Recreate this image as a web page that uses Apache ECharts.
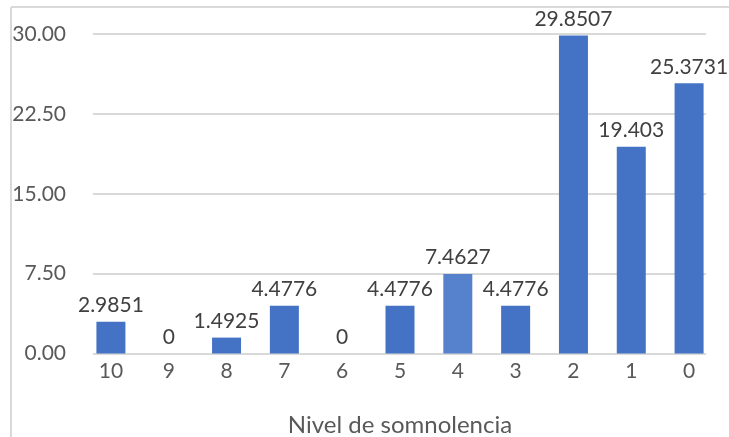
<!DOCTYPE html>
<html>
<head>
<meta charset="utf-8">
<script src="https://cdn.jsdelivr.net/npm/echarts@6/dist/echarts.min.js"></script>
<style>
  html, body { margin: 0; padding: 0; background: #fff; }
  #chart { width: 729px; height: 437px; }
</style>
</head>
<body>
<div id="chart"></div>
<script>
// Somnolence level distribution (%)
const categories = ['10', '9', '8', '7', '6', '5', '4', '3', '2', '1', '0'];
const values = [2.9851, 0, 1.4925, 4.4776, 0, 4.4776, 7.4627, 4.4776, 29.8507, 19.403, 25.3731];
const yTicks = { min: 0, max: 30, interval: 7.5 };
const axisTitle = 'Nivel de somnolencia';
const highlighted = '4';

const FONT = "Lato, sans-serif";
const BAR = '#4472C4';
const BAR_LIGHT = '#5581CD';

const chart = echarts.init(document.getElementById('chart'), null, { renderer: 'canvas' });

chart.setOption({
  backgroundColor: '#ffffff',
  animation: false,
  graphic: [
    { type: 'line', shape: { x1: 11, y1: 7, x2: 729, y2: 7 }, style: { stroke: '#d9d9d9', lineWidth: 2 } },
    { type: 'line', shape: { x1: 11, y1: 7, x2: 11, y2: 437 }, style: { stroke: '#d9d9d9', lineWidth: 2 } }
  ],
  grid: [
    // value scale with gridlines and tick labels
    { left: 93, right: 23, top: 34, bottom: 83.5, containLabel: false, outerBoundsMode: 'none' },
    // bars and category labels
    { left: 82, right: 11, top: 34, bottom: 83.5, containLabel: false, outerBoundsMode: 'none' }
  ],
  xAxis: [
    { gridIndex: 0, type: 'category', data: categories, show: false },
    {
      gridIndex: 1,
      type: 'category',
      data: categories,
      axisLine: { show: false },
      axisTick: { show: false },
      axisLabel: { color: '#595959', fontFamily: FONT, fontSize: 21, margin: 7 },
      name: axisTitle,
      nameLocation: 'middle',
      nameGap: 60,
      nameTextStyle: { color: '#595959', fontFamily: FONT, fontSize: 24 }
    }
  ],
  yAxis: [
    {
      gridIndex: 0,
      type: 'value',
      min: yTicks.min,
      max: yTicks.max,
      interval: yTicks.interval,
      axisLine: { show: false },
      axisTick: { show: false },
      axisLabel: {
        color: '#595959', fontFamily: FONT, fontSize: 21, margin: 27,
        formatter: v => v.toFixed(2)
      },
      splitLine: { lineStyle: { color: '#d9d9d9', width: 2 } }
    },
    {
      gridIndex: 1,
      type: 'value',
      min: yTicks.min,
      max: yTicks.max,
      interval: yTicks.interval,
      show: false
    }
  ],
  series: [{
    type: 'bar',
    xAxisIndex: 1,
    yAxisIndex: 1,
    data: values,
    barWidth: 29,
    itemStyle: {
      color: p => (p.name === highlighted ? BAR_LIGHT : BAR)
    },
    label: {
      show: true,
      position: 'top',
      distance: 6,
      color: '#404040',
      fontFamily: FONT,
      fontSize: 21,
      formatter: p => String(p.value)
    }
  }]
});
</script>
</body>
</html>
